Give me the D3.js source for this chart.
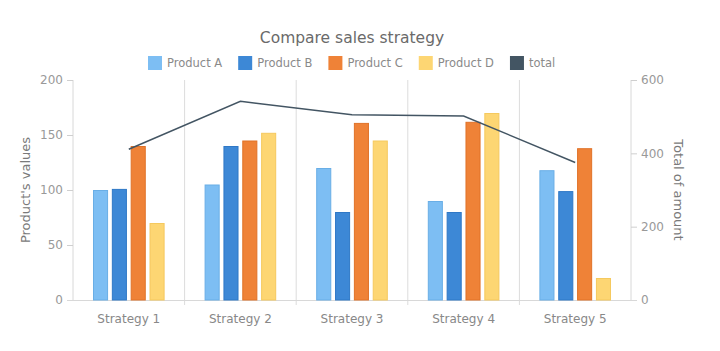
<!DOCTYPE html>
<html><head><meta charset="utf-8">
<script src="https://cdn.jsdelivr.net/npm/d3@7"></script>
<style>body{margin:0;background:#fff;}svg{display:block;font-family:"DejaVu Sans",Verdana,sans-serif;}</style>
</head><body><svg id="c" width="720" height="351"></svg>
<script>
const categories = ["Strategy 1","Strategy 2","Strategy 3","Strategy 4","Strategy 5"];
const seriesNames = ["Product A","Product B","Product C","Product D"];
const productA = [100,105,120,90,118];
const productB = [101,140,80,80,99];
const productC = [140,145,161,162,138];
const productD = [70,152,145,170,20];
const total = [411,542,505,502,375];
const leftTicks = [0,50,100,150,200];
const rightTicks = [0,200,400,600];
const colors = ["#7dbef3","#3d88d6","#ef8237","#fdd673"];
const strokes = ["#69aee6","#2f78c6","#e07228","#f5c95e"];
const lineColor = "#435563";

const series = [productA,productB,productC,productD];
const svg = d3.select("#c");
const L=73, R=631, T=80, B=300;
const x0 = d3.scaleBand().domain(categories).range([L,R]);
const x1 = d3.scaleBand().domain(seriesNames).range([20, x0.bandwidth()-20]).paddingInner(0.2);
const yL = d3.scaleLinear().domain([0,200]).range([B,T]);
const yR = d3.scaleLinear().domain([0,600]).range([B,T]);

// vertical grid lines at band boundaries
const bounds = categories.map(c=>x0(c)).concat([R]);
svg.append("g").selectAll("line").data(bounds.slice(1,-1)).join("line")
  .attr("x1",d=>d).attr("x2",d=>d).attr("y1",T).attr("y2",B+5)
  .attr("stroke","#dcdcdc").attr("stroke-width",1);

// left axis
const gl = svg.append("g").attr("transform",`translate(${L},0)`)
  .call(d3.axisLeft(yL).tickValues(leftTicks).tickSize(6).tickPadding(4));
gl.select(".domain").attr("stroke","#d8d8d8").attr("d",`M0,${T}V${B}`);
gl.selectAll(".tick line").attr("stroke","#cfcfcf");
gl.selectAll(".tick text").attr("fill","#999").attr("font-size","12px").attr("font-family","DejaVu Sans");

// right axis
const gr = svg.append("g").attr("transform",`translate(${R},0)`)
  .call(d3.axisRight(yR).tickValues(rightTicks).tickSize(6).tickPadding(4));
gr.select(".domain").attr("stroke","#d8d8d8").attr("d",`M0,${T}V${B}`);
gr.selectAll(".tick line").attr("stroke","#cfcfcf");
gr.selectAll(".tick text").attr("fill","#999").attr("font-size","12px").attr("font-family","DejaVu Sans");

// bottom axis
const gb = svg.append("g").attr("transform",`translate(0,${B})`)
  .call(d3.axisBottom(x0).tickSize(0).tickPadding(14));
gb.select(".domain").attr("stroke","#d8d8d8").attr("d",`M${L-6},0.5H${R+6}`);
gb.selectAll(".tick text").attr("fill","#888").attr("font-size","12px").attr("font-family","DejaVu Sans");

// bars
const groups = svg.append("g").selectAll("g").data(categories).join("g")
  .attr("transform",d=>`translate(${x0(d)},0)`);
groups.selectAll("rect").data((c,i)=>series.map((s,j)=>({name:seriesNames[j],v:s[i],j})))
  .join("rect")
  .attr("x",d=>x1(d.name)+0.5).attr("width",x1.bandwidth()-1)
  .attr("y",d=>yL(d.v)+0.5).attr("height",d=>B-yL(d.v)-0.5)
  .attr("fill",d=>colors[d.j]).attr("stroke",d=>strokes[d.j]).attr("stroke-width",1);

// total line
const line = d3.line().x((d,i)=>x0(categories[i])+x0.bandwidth()/2).y(d=>yR(d));
svg.append("path").datum(total).attr("d",line).attr("fill","none")
  .attr("stroke",lineColor).attr("stroke-width",1.5);

// title
svg.append("text").attr("x",352).attr("y",43).attr("text-anchor","middle")
  .attr("font-size","15.5px").attr("fill","#6a6a6a").text("Compare sales strategy");

// axis titles
svg.append("text").attr("transform",`translate(30,${(T+B)/2}) rotate(-90)`).attr("text-anchor","middle")
  .attr("font-size","13px").attr("fill","#7a7a7a").text("Product's values");
svg.append("text").attr("transform",`translate(674,${(T+B)/2}) rotate(90)`).attr("text-anchor","middle")
  .attr("font-size","13px").attr("fill","#7a7a7a").text("Total of amount");

// legend
const legendItems = seriesNames.map((n,i)=>({n,c:colors[i]})).concat([{n:"total",c:lineColor}]);
const lg = svg.append("g");
const items = lg.selectAll("g").data(legendItems).join("g");
items.append("rect").attr("width",14).attr("height",14).attr("y",-11).attr("fill",d=>d.c);
items.append("text").attr("x",19).attr("font-size","11.5px").attr("fill","#8a8a8a").text(d=>d.n);
let xpos=0;
items.each(function(){
  const w = d3.select(this).select("text").node().getComputedTextLength()+19;
  d3.select(this).attr("transform",`translate(${xpos},67)`);
  xpos += w + 16;
});
lg.attr("transform",`translate(148,0)`);
</script></body></html>
